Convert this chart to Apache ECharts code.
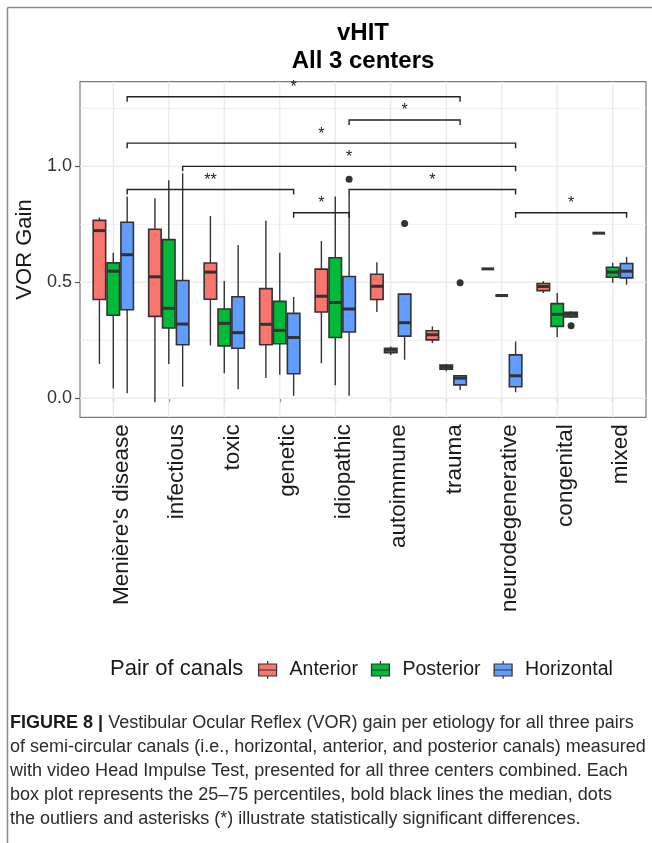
<!DOCTYPE html>
<html><head><meta charset="utf-8">
<script src="https://cdn.jsdelivr.net/npm/echarts@6/dist/echarts.min.js"></script>
<style>html,body{margin:0;padding:0;background:#fff}#c{width:652px;height:843px}</style>
</head><body><div id="c"></div>
<script>
// ---------------- data ----------------
const categories = ["Menière's disease", "infectious", "toxic", "genetic", "idiopathic",
  "autoimmune", "trauma", "neurodegenerative", "congenital", "mixed"];
const canals = ['Anterior', 'Posterior', 'Horizontal'];
const canalColors = ['#F8766D', '#00BA38', '#619CFF'];
// per category: [lower whisker, Q1, median, Q3, upper whisker]
const anterior = [
  [0.148, 0.426, 0.723, 0.767, 0.779],
  [-0.017, 0.353, 0.524, 0.729, 0.863],
  [0.228, 0.427, 0.544, 0.583, 0.786],
  [0.087, 0.231, 0.319, 0.473, 0.765],
  [0.151, 0.372, 0.440, 0.557, 0.678],
  [0.372, 0.426, 0.483, 0.535, 0.587],
  [0.238, 0.252, 0.274, 0.291, 0.310],
  [0.558, 0.558, 0.558, 0.558, 0.558],
  [0.454, 0.464, 0.482, 0.495, 0.505],
  [0.712, 0.712, 0.712, 0.712, 0.712]
];
const posterior = [
  [0.042, 0.358, 0.548, 0.584, 0.628],
  [0.148, 0.303, 0.388, 0.684, 0.940],
  [0.108, 0.226, 0.323, 0.385, 0.506],
  [0.101, 0.235, 0.293, 0.418, 0.628],
  [0.056, 0.262, 0.413, 0.606, 0.870],
  [0.187, 0.196, 0.208, 0.216, 0.223],
  [0.117, 0.125, 0.134, 0.143, 0.148],
  [0.443, 0.443, 0.443, 0.443, 0.443],
  [0.264, 0.310, 0.362, 0.408, 0.454],
  [0.498, 0.522, 0.544, 0.565, 0.584]
];
const horizontal = [
  [0.022, 0.382, 0.619, 0.759, 0.870],
  [0.050, 0.231, 0.320, 0.508, 0.970],
  [0.039, 0.216, 0.283, 0.438, 0.661],
  [0.011, 0.106, 0.262, 0.366, 0.437],
  [0.011, 0.286, 0.385, 0.525, 0.880],
  [0.166, 0.268, 0.326, 0.449, 0.449],
  [0.036, 0.058, 0.087, 0.097, 0.097],
  [0.026, 0.050, 0.097, 0.187, 0.245],
  [0.346, 0.351, 0.362, 0.371, 0.375],
  [0.490, 0.519, 0.548, 0.581, 0.610]
];
// outliers (all from the Horizontal pair)
const outlierCategory = [4, 5, 6, 8];
const outlierCanal = [2, 2, 2, 2];
const outlierValue = [0.944, 0.754, 0.498, 0.313];
// significance brackets between Horizontal boxes
const bracketFrom = [0, 4, 0, 1, 0, 4, 3, 7];
const bracketTo = [6, 6, 7, 7, 3, 7, 4, 9];
const bracketY = [1.30, 1.20, 1.10, 1.00, 0.90, 0.90, 0.80, 0.80];
const bracketLabel = ['*', '*', '*', '*', '**', '*', '*', '*'];
// axis ticks
const yTicks = [0, 0.5, 1.0];
const yMinorTicks = [0.25, 0.75, 1.25];
const yTickLabels = ['0.0', '0.5', '1.0'];

// ---------------- layout / style ----------------
const FONT = "'Liberation Sans', Arial, Helvetica, sans-serif";
const xMin = 0.4, xMax = 10.6, yMin = -0.082, yMax = 1.365;
const dodge = [-0.25, 0, 0.25];
const boxW = 0.225;
const LINE = '#333333';

const chart = echarts.init(document.getElementById('c'), null, {renderer: 'canvas'});

function boxRenderer(ci) {
  return function (params, api) {
    const x = api.value(0) + dodge[ci];
    const lo = api.value(1), q1 = api.value(2), md = api.value(3), q3 = api.value(4), hi = api.value(5);
    const tl = api.coord([x - boxW / 2, q3]);
    const br = api.coord([x + boxW / 2, q1]);
    const cLo = api.coord([x, lo]), cQ1 = api.coord([x, q1]), cQ3 = api.coord([x, q3]), cHi = api.coord([x, hi]);
    const mL = api.coord([x - boxW / 2, md]), mR = api.coord([x + boxW / 2, md]);
    const wStyle = {stroke: LINE, lineWidth: 1.4};
    return {
      type: 'group',
      children: [
        {type: 'line', shape: {x1: cLo[0], y1: cLo[1], x2: cQ1[0], y2: cQ1[1]}, style: wStyle},
        {type: 'line', shape: {x1: cQ3[0], y1: cQ3[1], x2: cHi[0], y2: cHi[1]}, style: wStyle},
        {type: 'rect', shape: {x: tl[0], y: tl[1], width: br[0] - tl[0], height: br[1] - tl[1]},
          style: {fill: canalColors[ci], stroke: LINE, lineWidth: 1.6}},
        {type: 'line', shape: {x1: mL[0], y1: mL[1], x2: mR[0], y2: mR[1]}, style: {stroke: LINE, lineWidth: 3}}
      ]
    };
  };
}

const boxSeries = [anterior, posterior, horizontal].map((arr, ci) => ({
  name: canals[ci],
  type: 'custom',
  z: 3,
  itemStyle: {color: canalColors[ci], borderColor: LINE, borderWidth: 1.2},
  renderItem: boxRenderer(ci),
  encode: {x: 0, y: [1, 2, 3, 4, 5]},
  data: arr.map((d, i) => [i + 1].concat(d))
}));

const gridHSeries = {
  type: 'custom', silent: true, z: 1,
  renderItem: function (params, api) {
    const v = api.value(0), major = api.value(1);
    const a = api.coord([xMin, v]), b = api.coord([xMax, v]);
    return {type: 'line', shape: {x1: a[0], y1: a[1], x2: b[0], y2: b[1]},
      style: {stroke: '#EBEBEB', lineWidth: major ? 1.4 : 0.8}};
  },
  encode: {y: 0},
  data: yTicks.map(v => [v, 1]).concat(yMinorTicks.map(v => [v, 0]))
};
const gridVSeries = {
  type: 'custom', silent: true, z: 1,
  renderItem: function (params, api) {
    const v = api.value(0);
    const a = api.coord([v, yMin]), b = api.coord([v, yMax]);
    return {type: 'line', shape: {x1: a[0], y1: a[1], x2: b[0], y2: b[1]},
      style: {stroke: '#EBEBEB', lineWidth: 1.4}};
  },
  encode: {x: 0},
  data: categories.map((c, i) => [i + 1])
};

const outlierSeries = {
  type: 'scatter', silent: true, z: 4,
  symbol: 'circle', symbolSize: 7,
  itemStyle: {color: LINE, opacity: 1},
  data: outlierValue.map((v, i) => [outlierCategory[i] + 1 + dodge[outlierCanal[i]], v])
};

const bracketSeries = {
  type: 'custom', silent: true, z: 4,
  renderItem: function (params, api) {
    const x1 = api.value(0), x2 = api.value(1), y = api.value(2), idx = api.value(3);
    const p1 = api.coord([x1, y]), p2 = api.coord([x2, y]);
    const tip = 5;
    return {
      type: 'group',
      children: [
        {type: 'polyline', shape: {points: [[p1[0], p1[1] + tip], [p1[0], p1[1]], [p2[0], p2[1]], [p2[0], p2[1] + tip]]},
          style: {stroke: '#222', lineWidth: 1.4, fill: null}},
        {type: 'text', style: {text: bracketLabel[idx], x: (p1[0] + p2[0]) / 2, y: p1[1] - 9,
          align: 'center', verticalAlign: 'middle', font: '16px ' + FONT, fill: '#222'}}
      ]
    };
  },
  encode: {x: [0, 1], y: 2},
  data: bracketFrom.map((f, i) => [f + 1 + dodge[2], bracketTo[i] + 1 + dodge[2], bracketY[i], i])
};

// caption
const capLines = [
  null,
  'of semi-circular canals (i.e., horizontal, anterior, and posterior canals) measured',
  'with video Head Impulse Test, presented for all three centers combined. Each',
  'box plot represents the 25–75 percentiles, bold black lines the median, dots',
  'the outliers and asterisks (*) illustrate statistically significant differences.'
];
const capBold = 'FIGURE 8 | ';
const capFirst = 'Vestibular Ocular Reflex (VOR) gain per etiology for all three pairs';
const mctx = document.createElement('canvas').getContext('2d');
mctx.font = '100px ' + FONT;
const capSize = 100 * 636 / mctx.measureText(capLines[1]).width;
const capX = 10, capY0 = 723, capDY = 24;
const capGraphics = capLines.map((t, i) => {
  if (i === 0) {
    return {type: 'text', x: capX, y: capY0, style: {
      text: '{b|' + capBold + '}{r|' + capFirst + '}',
      rich: {b: {fontFamily: FONT, fontWeight: 'bold', fontSize: capSize, fill: '#1a1a1a'},
             r: {fontFamily: FONT, fontSize: capSize, fill: '#2b2b2b'}},
      verticalAlign: 'middle'}};
  }
  return {type: 'text', x: capX, y: capY0 + i * capDY, style: {
    text: t, fontFamily: FONT, fontSize: capSize, fill: '#2b2b2b', verticalAlign: 'middle'}};
});

const keyIcon = 'path://M0,3 L18,3 L18,15 L0,15 Z M0,9 L18,9 M9,0 L9,3 M9,15 L9,18';

chart.setOption({
  animation: false,
  backgroundColor: '#ffffff',
  textStyle: {fontFamily: FONT},
  grid: {left: 80, right: 6, top: 81.7, bottom: 425.7, show: true, backgroundColor: '#ffffff',
    borderColor: '#7a7a7a', borderWidth: 1.2, outerBoundsMode: 'none', containLabel: false},
  xAxis: {
    type: 'value', min: xMin, max: xMax,
    axisLine: {show: false}, splitLine: {show: false},
    axisTick: {show: true, customValues: categories.map((c, i) => i + 1), length: 4, inside: false,
      lineStyle: {color: '#555', width: 1.2}},
    axisLabel: {show: true, customValues: categories.map((c, i) => i + 1),
      formatter: v => categories[Math.round(v) - 1], rotate: 90, margin: 7,
      align: 'right', verticalAlign: 'top', lineHeight: 17,
      fontSize: 22.5, color: '#1a1a1a', fontFamily: FONT, hideOverlap: false}
  },
  yAxis: {
    type: 'value', min: yMin, max: yMax,
    axisLine: {show: false}, splitLine: {show: false},
    axisTick: {show: true, customValues: yTicks, length: 5, lineStyle: {color: '#555', width: 1.2}},
    axisLabel: {show: true, customValues: yTicks,
      formatter: v => yTickLabels[yTicks.indexOf(Math.round(v * 10) / 10)] ,
      margin: 8, fontSize: 18, color: '#333', fontFamily: FONT},
    name: 'VOR Gain', nameLocation: 'middle', nameGap: 36, nameRotate: 90,
    nameTextStyle: {fontSize: 22, color: '#1a1a1a', fontFamily: FONT}
  },
  legend: {
    show: true, orient: 'horizontal', left: 258, top: 660, padding: 0, selectedMode: false,
    itemWidth: 18, itemHeight: 18, itemGap: 13,
    textStyle: {fontSize: 19.5, color: '#1a1a1a', fontFamily: FONT, padding: [0, 0, 0, 8]},
    data: canals.map((n, i) => ({name: n, icon: keyIcon,
      itemStyle: {color: canalColors[i], borderColor: LINE, borderWidth: 1.2}}))
  },
  graphic: [
    {type: 'line', shape: {x1: 7.5, y1: 7.5, x2: 7.5, y2: 843}, style: {stroke: '#8c8c8c', lineWidth: 1.5}},
    {type: 'line', shape: {x1: 7.5, y1: 7.5, x2: 652, y2: 7.5}, style: {stroke: '#8c8c8c', lineWidth: 1.5}},
    {type: 'text', x: 363, y: 19, style: {text: 'vHIT\nAll 3 centers', align: 'center', verticalAlign: 'top',
      font: 'bold 24px ' + FONT, lineHeight: 28.3, fill: '#000'}},
    {type: 'text', x: 110, y: 669, style: {text: 'Pair of canals', verticalAlign: 'middle',
      font: '22px ' + FONT, fill: '#1a1a1a'}}
  ].concat(capGraphics),
  series: [gridHSeries, gridVSeries].concat(boxSeries, [outlierSeries, bracketSeries])
});
</script>
</body></html>
